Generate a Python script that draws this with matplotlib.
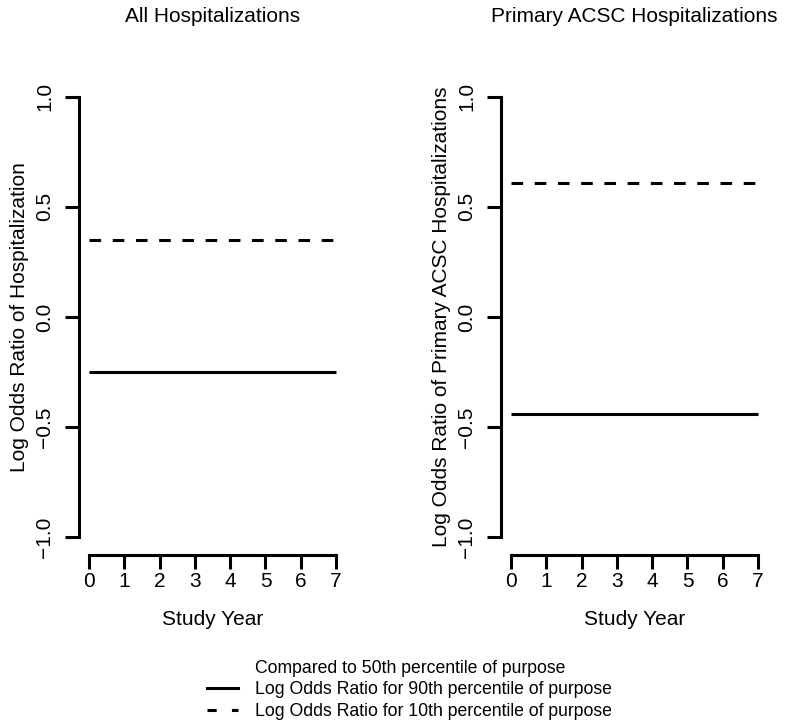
import matplotlib
matplotlib.use('Agg')
import matplotlib.pyplot as plt
from matplotlib.lines import Line2D

plt.rcParams['font.family'] = ['Liberation Sans', 'DejaVu Sans']
plt.rcParams['axes.unicode_minus'] = True

# data
years = [0, 1, 2, 3, 4, 5, 6, 7]
titles = ['All Hospitalizations', 'Primary ACSC Hospitalizations']
ylabels = ['Log Odds Ratio of Hospitalization',
           'Log Odds Ratio of Primary ACSC Hospitalizations']
lor_90 = [-0.25, -0.44]   # 90th vs 50th percentile of purpose
lor_10 = [0.35, 0.61]     # 10th vs 50th percentile of purpose
yticks = [-1.0, -0.5, 0.0, 0.5, 1.0]
legend_labels = ['Compared to 50th percentile of purpose',
                 'Log Odds Ratio for 90th percentile of purpose',
                 'Log Odds Ratio for 10th percentile of purpose']

fs = 15
lw = 2.2
dash = (0, (3.8, 3.8))

fig = plt.figure(figsize=(8, 7.24), dpi=100)
lefts = [79 / 800, 501 / 800]

for i in range(2):
    ax = fig.add_axes([lefts[i], 1 - 555 / 724, 267 / 800, 476 / 724])
    ax.plot([years[0], years[-1]], [lor_90[i]] * 2, color='black', lw=lw,
            solid_capstyle='butt')
    ax.plot([years[0], years[-1]], [lor_10[i]] * 2, color='black', lw=lw,
            linestyle=dash, dash_capstyle='butt')
    ax.set_xlim(-0.28, 7.28)
    ax.set_ylim(-1.08, 1.08)
    for s in ['top', 'right']:
        ax.spines[s].set_visible(False)
    ax.spines['left'].set_bounds(-1, 1)
    ax.spines['bottom'].set_bounds(0, 7)
    ax.spines['left'].set_linewidth(lw)
    ax.spines['bottom'].set_linewidth(lw)
    ax.set_xticks(years)
    ax.set_yticks(yticks)
    ax.set_yticklabels([('%.1f' % v).replace('-', '\u2212') for v in yticks],
                       rotation=90, va='center')
    ax.tick_params(length=10, width=lw, labelsize=fs)
    ax.tick_params(axis='x', pad=2)
    ax.tick_params(axis='y', pad=8)
    ax.set_xlabel('Study Year', fontsize=fs, labelpad=14)
    ax.set_ylabel(ylabels[i], fontsize=fs, labelpad=4)
    ax.set_title(titles[i], fontsize=fs, pad=41)

handles = [Line2D([], [], color='none'),
           Line2D([], [], color='black', lw=lw),
           Line2D([], [], color='black', lw=lw, linestyle=(0, (3.0, 5.0)))]
fig.legend(handles, legend_labels, loc='lower center', bbox_to_anchor=(0.512, -0.004),
           frameon=False, fontsize=12.7, handlelength=1.76, handletextpad=0.95,
           labelspacing=0.26, borderaxespad=0.0)

fig.savefig('out.png', dpi=100)
